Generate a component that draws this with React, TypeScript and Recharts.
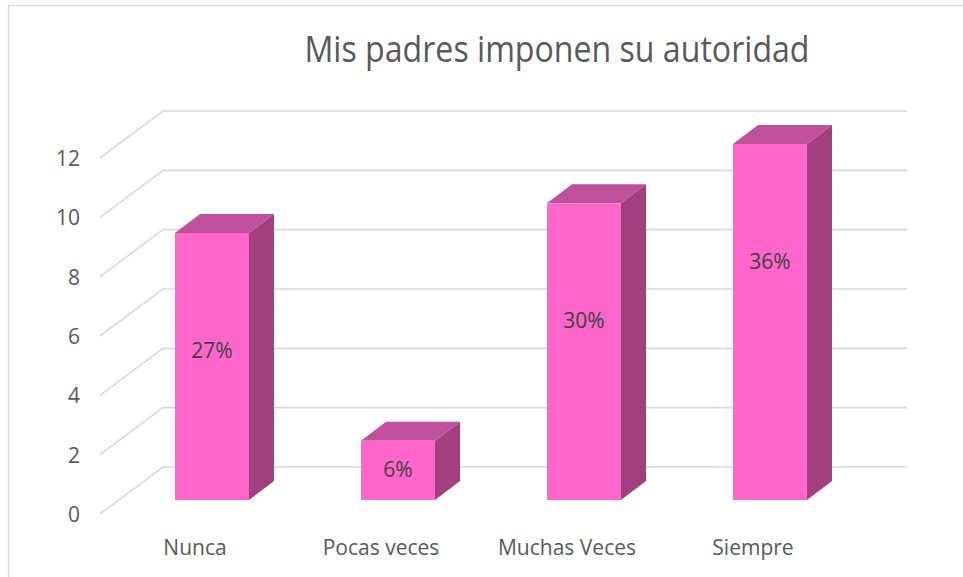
import React from 'react';
import { BarChart, Bar, XAxis, YAxis, CartesianGrid, LabelList } from 'recharts';

const categories = ['Nunca', 'Pocas veces', 'Muchas Veces', 'Siempre'];
const counts = [9, 2, 10, 12];
const percents = ['27%', '6%', '30%', '36%'];
const yTicks = [0, 2, 4, 6, 8, 10, 12];

const data = categories.map((c, i) => ({ name: c, value: counts[i], pct: percents[i] }));

const FONT = '"Open Sans", "Noto Sans", sans-serif';
const GRID = '#D9D9D9';
const FRONT = '#FF66CC';
const TOP = '#C0509B';
const SIDE = '#A2407F';
// perspective offsets
const FDX = -19, FDY = 14; // front edge of floor relative to bar plane
const BDX = 44, BDY = -33; // back wall relative to bar plane
const DDX = 25, DDY = -19; // bar depth

const Bar3D = (props: any) => {
  const { x, y, width, height } = props;
  if (height == null || width == null) return null;
  const x2 = x + width;
  const yb = y + height;
  return (
    <g>
      <polygon points={`${x2},${y} ${x2 + DDX},${y + DDY} ${x2 + DDX},${yb + DDY} ${x2},${yb}`} fill={SIDE} />
      <polygon points={`${x},${y} ${x + DDX},${y + DDY} ${x2 + DDX},${y + DDY} ${x2},${y}`} fill={TOP} />
      <rect x={x} y={y} width={width} height={height} fill={FRONT} />
    </g>
  );
};

const gridLine = (props: any) => {
  const { x1, x2, y1, key } = props;
  return (
    <path
      key={key}
      d={`M${x1 + FDX},${y1 + FDY} L${x1 + BDX},${y1 + BDY} L${x2 + BDX},${y1 + BDY}`}
      stroke={GRID}
      strokeWidth={1.6}
      fill="none"
    />
  );
};

const YTick = (props: any) => {
  const { x, y, payload } = props;
  return (
    <text x={x - 39} y={y + FDY + 8} textAnchor="end" fontFamily={FONT} fontSize={21} fill="#595959">
      {payload.value}
    </text>
  );
};

const XTick = (props: any) => {
  const { x, y, payload } = props;
  return (
    <text x={x - 17} y={y + 55} textAnchor="middle" fontFamily={FONT} fontSize={21} fill="#595959">
      {payload.value}
    </text>
  );
};

const PctLabel = (props: any) => {
  const { x, y, width, height, value } = props;
  const cy = Math.min(y + 118, y + height / 2);
  return (
    <text x={x + width / 2} y={cy + 7} textAnchor="middle" fontFamily={FONT} fontSize={21} fill="#404040">
      {value}
    </text>
  );
};

export default function App() {
  return (
    <div style={{ position: 'absolute', left: 0, top: 0, width: 963, height: 577, background: '#fff' }}>
      <svg width={963} height={577} style={{ position: 'absolute', left: 0, top: 0 }}>
        <line x1={8.5} y1={5} x2={8.5} y2={577} stroke={GRID} strokeWidth={1.5} />
        <line x1={8} y1={5.5} x2={963} y2={5.5} stroke={GRID} strokeWidth={1.5} />
        <text x={557} y={62} textAnchor="middle" fontFamily={FONT} fontSize={36} fill="#595959" textLength={505} lengthAdjust="spacingAndGlyphs">
          Mis padres imponen su autoridad
        </text>
      </svg>
      <div style={{ position: 'absolute', left: 0, top: 0 }}>
        <BarChart width={963} height={577} data={data} margin={{ top: 144, right: 100, bottom: 0, left: 59 }}>
          <CartesianGrid vertical={false} horizontal={gridLine} />
          <XAxis dataKey="name" axisLine={false} tickLine={false} tickSize={0} tickMargin={0} height={77} tick={<XTick />} interval={0} />
          <YAxis domain={[0, 12]} ticks={yTicks} axisLine={false} tickLine={false} tickSize={0} tickMargin={0} width={60} tick={<YTick />} />
          <Bar dataKey="value" barSize={74} shape={<Bar3D />} isAnimationActive={false}>
            <LabelList dataKey="pct" content={<PctLabel />} />
          </Bar>
        </BarChart>
      </div>
    </div>
  );
}
